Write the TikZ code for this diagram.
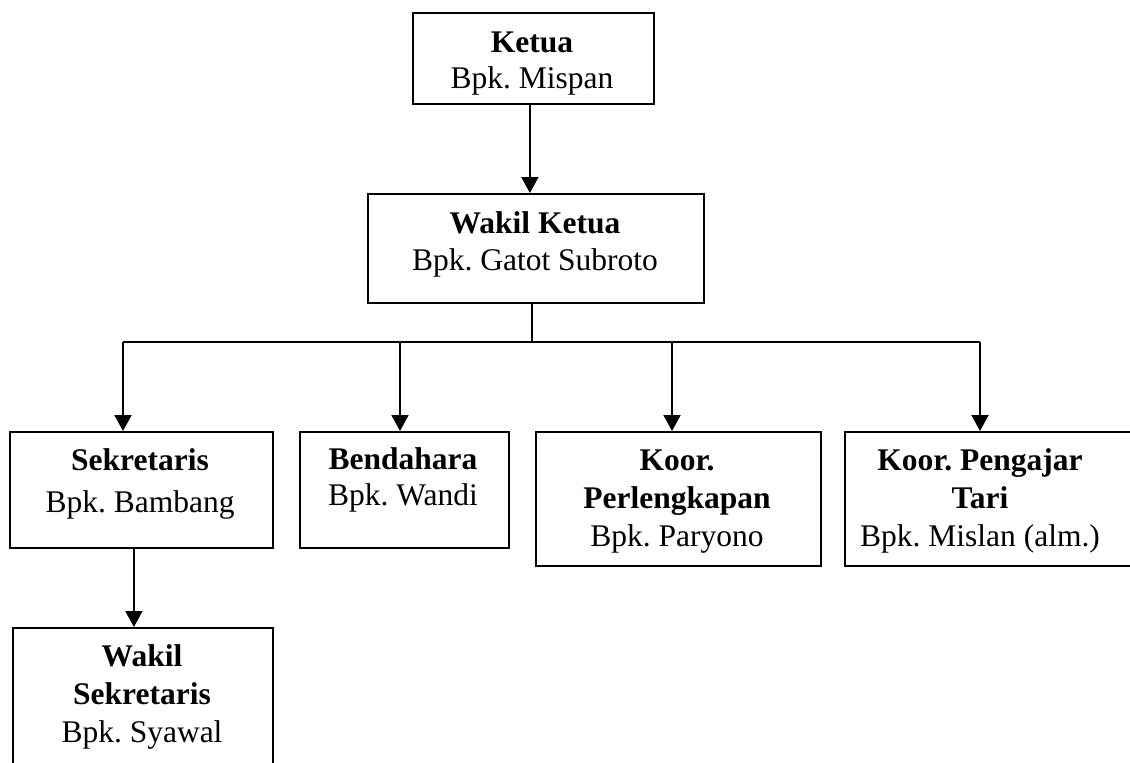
\documentclass[tikz,border=0pt]{standalone}
\usepackage{fontspec}
\setmainfont{Liberation Serif}
\usetikzlibrary{arrows.meta}
\frenchspacing
\begin{document}
\begin{tikzpicture}[x=1pt,y=-1pt,
  box/.style={draw=black, line width=1.8pt, rectangle, inner sep=0pt, anchor=north west},
  lbl/.style={anchor=base, align=center, inner sep=0pt, font=\fontsize{31.5}{38}\selectfont},
  arr/.style={line width=2pt, -{Triangle[width=17pt,length=16pt]}},
  ln/.style={line width=2pt},
  thin/.style={line width=1.2pt}]
\useasboundingbox (0,0) rectangle (1130,763);
\fill[white] (0,0) rectangle (1130,763);
\clip (0,0) rectangle (1130,763);

% boxes
\node[box, minimum width=241pt, minimum height=91pt]  (ketua) at (412,12)  {};
\node[box, minimum width=336pt, minimum height=109pt] (wk)    at (367,193) {};
\node[box, minimum width=263pt, minimum height=116pt] (sek)   at (9,431)   {};
\node[box, minimum width=209pt, minimum height=116pt] (ben)   at (299,431) {};
\node[box, minimum width=285pt, minimum height=134pt] (perl)  at (535,431) {};
\node[box, minimum width=300pt, minimum height=134pt] (peng)  at (844,431) {};
\node[box, minimum width=260pt, minimum height=160pt] (wsek)  at (12,627)  {};

% texts (base anchor = baseline of last line)
\node[lbl] (ketuaT) at (532,88)  {\textbf{Ketua}\\[-2pt]Bpk. Mispan};
\node[lbl] (wkT)    at (535,270) {\textbf{Wakil Ketua}\\[-1pt]Bpk. Gatot Subroto};
\node[lbl] (sekT)   at (140,512) {\textbf{Sekretaris}\\[4pt]Bpk. Bambang};
\node[lbl] (benT)   at (403,505) {\textbf{Bendahara}\\[-2pt]Bpk. Wandi};
\node[lbl] (perlT)  at (677,546) {\textbf{Koor.}\\\textbf{Perlengkapan}\\Bpk. Paryono};
\node[lbl] (pengT)  at (980,546) {\textbf{Koor. Pengajar}\\\textbf{Tari}\\Bpk. Mislan (alm.)};
\node[lbl] (wsekT)  at (142,742) {\textbf{Wakil}\\\textbf{Sekretaris}\\Bpk. Syawal};

% connectors
\draw[arr] ([xshift=-3.5pt]ketua.south) -- ([xshift=-3.5pt]ketua.south |- wk.north);

\coordinate (j)  at (532,342);
\coordinate (c1) at (123,342);
\coordinate (c2) at (400,342);
\coordinate (c3) at (672,342);
\coordinate (c4) at (980,342);
\draw[thin] (j |- wk.south) -- (j);
\draw[ln] (c1) -- (c4);
\draw[arr] (c1) -- (c1 |- sek.north);
\draw[arr] (c2) -- (c2 |- ben.north);
\draw[arr] (c3) -- (c3 |- perl.north);
\draw[arr] (c4) -- (c4 |- peng.north);

\draw[arr] ([xshift=-7.5pt]sek.south) -- ([xshift=-7.5pt]sek.south |- wsek.north);
\end{tikzpicture}
\end{document}
